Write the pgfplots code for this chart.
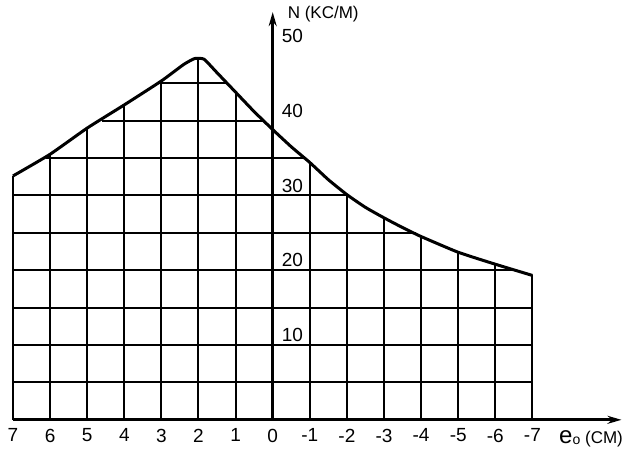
\documentclass[border=0pt]{standalone}
\usepackage{pgfplots}
\pgfplotsset{compat=1.18}
\usetikzlibrary{arrows.meta}
\usepackage{fontspec}
\setmainfont{Liberation Sans}

% curve N(e0)
\pgfplotstableread{
x y
7 32.6
6 35.5
5 39.0
4 42.1
3 45.3
2.4 47.5
2.1 48.3
1.85 48.2
1.5 46.4
1 43.8
0.5 41.2
0 38.8
-0.5 36.5
-1 34.4
-1.5 32.1
-2 30.1
-2.5 28.4
-3 27.0
-3.5 25.7
-4 24.5
-5 22.4
-6 20.8
-7 19.3
}\curve

\begin{document}
\begin{tikzpicture}
\begin{axis}[
    x=18.55pt, y=3.74pt,
    x dir=reverse,
    xmin=-9.4, xmax=7,
    ymin=0, ymax=54.5,
    axis lines=middle,
    axis line style={line width=1.4pt},
    y axis line style={-{Stealth[length=7pt,width=4pt]}},
    x axis line style={{Stealth[length=7pt,width=4pt]}-},
    major tick length=0pt,
    hide obscured x ticks=false,
    xtick={-7,...,7},
    xticklabels={-7,-6,-5,-4,-3,-2,-1,0,1,2,3,4,5,6,7},
    xticklabel style={anchor=north, yshift=-1pt},
    ytick={10,20,30,40,50},
    yticklabel style={anchor=south west, xshift=1pt, yshift=-2pt},
    /pgf/number format/assume math mode=true,
    tick label style={font=\fontsize{9.5}{10}\selectfont},
    label style={font=\fontsize{8.5}{10}\selectfont},
    xlabel={{\fontsize{12}{12}\selectfont e}\raisebox{-0.2ex}{\scriptsize o} (CM)},
    ylabel={N (KC/M)},
    x label style={at={(axis description cs:0.95,-0.008)}, anchor=north},
    y label style={at={(axis description cs:0.44,0.994)}, anchor=west, rotate=0},
    clip=false,
]
% vertical grid lines, up to the curve
\addplot[ycomb, line width=1pt, no markers] coordinates {
    (7,32.6) (6,35.5) (5,39.0) (4,42.1) (3,45.3) (2,48.3) (1,43.8) (0,38.8)
    (-1,34.4) (-2,30.1) (-3,27.0) (-4,24.5) (-5,22.4) (-6,20.8) (-7,19.3)
};
% horizontal grid lines, between the crossings with the curve
\addplot[line width=1pt, no markers, unbounded coords=jump] coordinates {
    (7,5) (-7,5) (nan,nan)
    (7,10) (-7,10) (nan,nan)
    (7,15) (-7,15) (nan,nan)
    (7,20) (-6.5,20) (nan,nan)
    (7,25) (-3.85,25) (nan,nan)
    (7,30) (-2.03,30) (nan,nan)
    (6.12,35) (-0.86,35) (nan,nan)
    (4.59,40) (0.24,40) (nan,nan)
    (3.0,45) (1.22,45)
};
% the curve
\addplot[line width=1.5pt, smooth, tension=0.3, no markers] table {\curve};
\path (axis cs:7.35,-3.5) rectangle (axis cs:-9.63,56.1);
\end{axis}
\end{tikzpicture}
\end{document}
